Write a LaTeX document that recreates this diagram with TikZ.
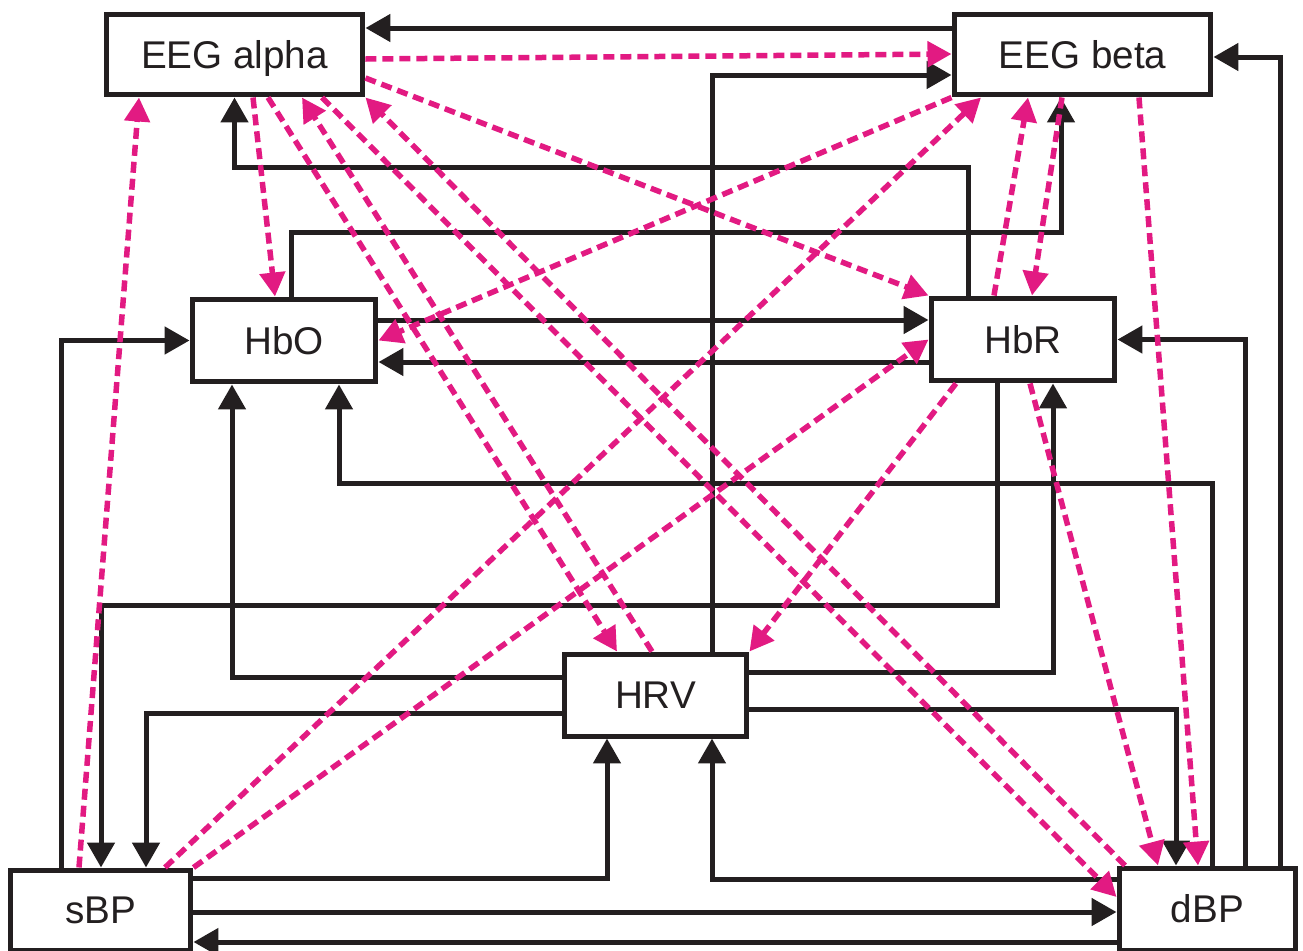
\documentclass[tikz,border=0pt]{standalone}
\usepackage{fontspec}
\setmainfont{Liberation Sans}
\usetikzlibrary{arrows.meta, positioning, calc}
\definecolor{inkblack}{RGB}{35, 31, 32}
\definecolor{linkpink}{RGB}{226, 26, 130}
\tikzset{
    sigbox/.style={draw=inkblack, rectangle, line width=0.1cm, fill=white, font=\fontsize{22}{26}\selectfont, text=inkblack, inner sep=0pt, text height=15.8pt, text depth=0pt},
    solidarrow/.style={-{Triangle[length=0.5cm, width=0.54cm]}, line width=0.1cm, draw=inkblack},
    dasharrow/.style={-{Triangle[length=0.48cm, width=0.5cm]}, line width=0.11cm, draw=linkpink, dash pattern=on 0.22cm off 0.12cm},
}
\begin{document}
\begin{tikzpicture}[x=0.02cm, y=-0.02cm]
    \useasboundingbox (0,0) rectangle (1303,951);

    % EEG blocks
    \node[sigbox, minimum width=5.14cm, minimum height=1.62cm] (EEGa) at (234.5,54.5) {EEG alpha};
    \node[sigbox, minimum width=5.14cm, minimum height=1.62cm] (EEGb) at (1082.5,54.5) {EEG beta};

    % fNIRS blocks
    \node[sigbox, minimum width=3.68cm, minimum height=1.66cm] (HbO) at (284,340.5) {HbO};
    \node[sigbox, minimum width=3.68cm, minimum height=1.66cm] (HbR) at (1023,339.5) {HbR};

    % heart and pressure blocks
    \node[sigbox, minimum width=3.66cm, minimum height=1.64cm] (HRV) at (655.5,695) {HRV};
    \node[sigbox, minimum width=3.62cm, minimum height=1.60cm] (sBP) at (100.5,910) {sBP};
    \node[sigbox, minimum width=3.54cm, minimum height=1.64cm] (dBP) at (1207.5,909) {dBP};

    % solid links
    \draw[solidarrow] (EEGb.west |- 0,28) -- (EEGa.east |- 0,28);
    \draw[solidarrow] (712,0 |- HRV.north) |- (EEGb.west |- 0,75);
    \draw[solidarrow] (968,0 |- HbR.north) -- (968,167) -| (EEGa.south);
    \draw[solidarrow] (291,0 |- HbO.north) -- (291,232) -| (1061,0 |- EEGb.south);
    \draw[solidarrow] (61,0 |- sBP.north) |- (HbO.west);
    \draw[solidarrow] (HbO.east |- 0,320) -- (HbR.west |- 0,320);
    \draw[solidarrow] (HbR.west |- 0,362) -- (HbO.east |- 0,362);
    \draw[solidarrow] (1245,0 |- dBP.north) |- (HbR.east);
    \draw[solidarrow] (1280,0 |- dBP.north) |- (EEGb.east |- 0,57);
    \draw[solidarrow] (1212,0 |- dBP.north) -- (1212,483) -| (339,0 |- HbO.south);
    \draw[solidarrow] (997,0 |- HbR.south) -- (997,605) -| (101,0 |- sBP.north);
    \draw[solidarrow] (HRV.west |- 0,677) -| (232,0 |- HbO.south);
    \draw[solidarrow] (HRV.east |- 0,672) -| (1053,0 |- HbR.south);
    \draw[solidarrow] (HRV.west |- 0,713) -| (146,0 |- sBP.north);
    \draw[solidarrow] (HRV.east |- 0,709) -| (1176,0 |- dBP.north);
    \draw[solidarrow] (sBP.east |- 0,878) -| (607,0 |- HRV.south);
    \draw[solidarrow] (dBP.west |- 0,879) -| (712,0 |- HRV.south);
    \draw[solidarrow] (sBP.east |- 0,912) -- (dBP.west |- 0,912);
    \draw[solidarrow] (dBP.west |- 0,942) -- (sBP.east |- 0,942);

    % dashed links
    \draw[dasharrow] (EEGa.east |- 0,59) -- (EEGb.west |- 0,54);
    \draw[dasharrow] (EEGa.east |- 0,78) -- (HbR.north west);
    \draw[dasharrow] (253,0 |- EEGa.south) -- (275,0 |- HbO.north);
    \draw[dasharrow] (268,0 |- EEGa.south) -- (617,0 |- HRV.north);
    \draw[dasharrow] (652,0 |- HRV.north) -- (302,0 |- EEGa.south);
    \draw[dasharrow] (1125,0 |- dBP.north) -- (EEGa.south east);
    \draw[dasharrow] (322,0 |- EEGa.south) -- (dBP.west |- 0,897);
    \draw[dasharrow] (79,0 |- sBP.north) -- (139,0 |- EEGa.south);
    \draw[dasharrow] (EEGb.south west) -- (HbO.east);
    \draw[dasharrow] (165,0 |- sBP.north) -- (981,0 |- EEGb.south);
    \draw[dasharrow] (994,0 |- HbR.north) -- (1028,0 |- EEGb.south);
    \draw[dasharrow] (1062,0 |- EEGb.south) -- (1032,0 |- HbR.north);
    \draw[dasharrow] (1139,0 |- EEGb.south) -- (1198,0 |- dBP.north);
    \draw[dasharrow] (1030,0 |- HbR.south) -- (1158,0 |- dBP.north);
    \draw[dasharrow] (956,0 |- HbR.south) -- (HRV.north east);
    \draw[dasharrow] (sBP.north east) -- (HbR.west);
\end{tikzpicture}
\end{document}
